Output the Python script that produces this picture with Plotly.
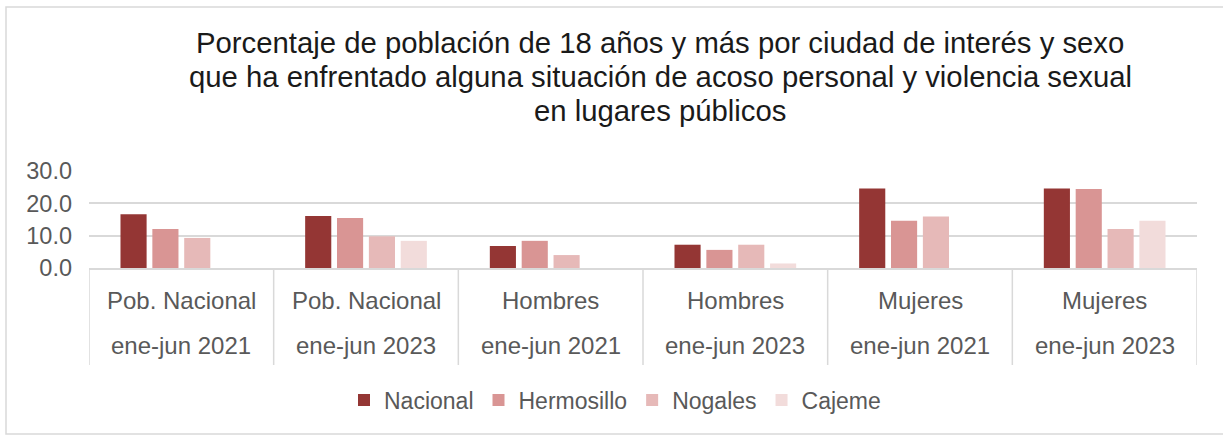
import plotly.graph_objects as go

cat_line1 = ["Pob. Nacional", "Pob. Nacional", "Hombres", "Hombres", "Mujeres", "Mujeres"]
cat_line2 = ["ene-jun 2021", "ene-jun 2023", "ene-jun 2021", "ene-jun 2023", "ene-jun 2021", "ene-jun 2023"]
categories = [f"{a} {b}" for a, b in zip(cat_line1, cat_line2)]

nacional = [16.6, 16.1, 6.8, 7.2, 24.6, 24.6]
hermosillo = [12.1, 15.5, 8.4, 5.6, 14.6, 24.4]
nogales = [9.3, 9.8, 4.0, 7.2, 15.9, 12.1]
cajeme = [None, 8.4, None, 1.4, None, 14.6]

title_lines = [
    "Porcentaje de población de 18 años y más por ciudad de interés y sexo",
    "que ha enfrentado alguna situación de acoso personal y violencia sexual",
    "en lugares públicos",
]

series = [
    ("Nacional", nacional, "#943634"),
    ("Hermosillo", hermosillo, "#D99594"),
    ("Nogales", nogales, "#E6B9B8"),
    ("Cajeme", cajeme, "#F2DCDB"),
]

FONT = "Liberation Sans, Arial, sans-serif"
W, H = 1223, 436
ML, MR, MT, MB = 89, 26, 171, 168
plot_w = W - ML - MR
plot_h = H - MT - MB

def py(pix):
    return (H - MB - pix) / plot_h

def px(pix):
    return (pix - ML) / plot_w

fig = go.Figure()
for name, vals, color in series:
    fig.add_trace(go.Bar(x=categories, y=vals, name=name, marker_color=color,
                         marker_line_width=0))

# title lines
for yy, line in zip([43, 77, 110], title_lines):
    fig.add_annotation(x=px(660), xref="paper", y=py(yy), yref="paper", text=line,
                       showarrow=False, font=dict(family=FONT, size=29.3, color="#1a1a1a"),
                       xanchor="center", yanchor="middle")

# category labels
for i, c in enumerate(categories):
    fig.add_annotation(x=c, xref="x", y=py(300), yref="paper", text=cat_line1[i],
                       showarrow=False, font=dict(family=FONT, size=24, color="#595959"),
                       yanchor="middle")
    fig.add_annotation(x=c, xref="x", y=py(345), yref="paper", text=cat_line2[i],
                       showarrow=False, font=dict(family=FONT, size=24, color="#595959"),
                       yanchor="middle")

# category dividers
for k in range(len(categories) + 1):
    fig.add_shape(type="line", xref="x", yref="paper", x0=k - 0.5, x1=k - 0.5,
                  y0=0, y1=py(365), line=dict(color="#d9d9d9", width=1.5))

# outer frame
fig.add_shape(type="rect", xref="paper", yref="paper",
              x0=px(6), x1=px(1240), y0=py(434), y1=py(7),
              line=dict(color="#d9d9d9", width=1.5))

fig.update_layout(
    width=W, height=H, autosize=False,
    margin=dict(l=ML, r=MR, t=MT, b=MB, autoexpand=False),
    paper_bgcolor="white", plot_bgcolor="white",
    barmode="group", bargap=0.31, bargroupgap=0.18,
    xaxis=dict(showticklabels=False, showgrid=False, showline=True,
               linecolor="#d9d9d9", linewidth=1.5, zeroline=False,
               range=[-0.5, 5.5]),
    yaxis=dict(range=[0, 30], dtick=10, tickformat=".1f", showgrid=True,
               gridcolor="#d9d9d9", gridwidth=1.5, zeroline=False, showline=False,
               tickfont=dict(family=FONT, size=23.5, color="#595959"),
               ticklabelstandoff=16),
    legend=dict(orientation="h", x=px(615), xref="paper", xanchor="center",
                y=py(400), yanchor="middle",
                font=dict(family=FONT, size=23, color="#595959"),
                tracegroupgap=0, traceorder="normal", itemwidth=30),
    showlegend=True,
)

fig.write_html("out.html", config={"displayModeBar": False},
               post_script="document.body.style.margin='0';")
